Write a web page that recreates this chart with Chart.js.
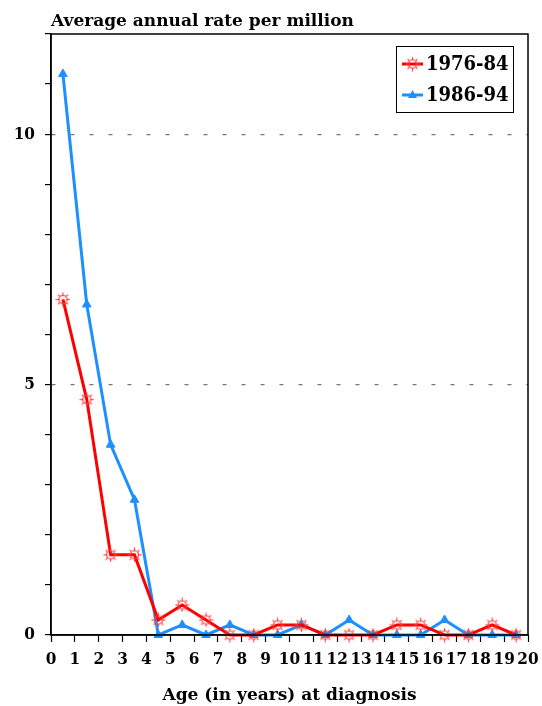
<!DOCTYPE html>
<html>
<head>
<meta charset="utf-8">
<script src="https://cdn.jsdelivr.net/npm/chart.js@4.4.1/dist/chart.umd.min.js"></script>
<style>
  html, body { margin: 0; padding: 0; background: #fff; }
  #wrap { width: 542px; height: 706px; }
</style>
</head>
<body>
<div id="wrap"><canvas id="chart" width="542" height="706"></canvas></div>
<script>
// ages are class mid-points (0-1 -> 0.5, ...)
const ages       = [0.5, 1.5, 2.5, 3.5, 4.5, 5.5, 6.5, 7.5, 8.5, 9.5, 10.5, 11.5, 12.5, 13.5, 14.5, 15.5, 16.5, 17.5, 18.5, 19.5];
const rate7684   = [6.7, 4.7, 1.6, 1.6, 0.3, 0.6, 0.3, 0, 0, 0.2, 0.2, 0, 0, 0, 0.2, 0.2, 0, 0, 0.2, 0];
const rate8694   = [11.2, 6.6, 3.8, 2.7, 0, 0.2, 0, 0.2, 0, 0, 0.2, 0, 0.3, 0, 0, 0, 0.3, 0, 0, 0];
const seriesNames = ['1976-84', '1986-94'];
const yLabelled   = [0, 5, 10];
const yTitle      = 'Average annual rate per million';
const xTitle      = 'Age (in years) at diagnosis';

const FONT  = '"DejaVu Serif Condensed", "DejaVu Serif", serif';
const WIDE  = '"DejaVu Serif", serif';

// red "sun" marker: ring with spikes
function sunMarker() {
  const c = document.createElement('canvas');
  c.width = 15; c.height = 15;
  const g = c.getContext('2d');
  g.strokeStyle = '#ff3a3a';
  g.lineWidth = 1.2;
  g.beginPath();
  g.arc(7.5, 7.5, 4, 0, Math.PI * 2);
  g.stroke();
  for (let i = 0; i < 8; i++) {
    const a = i * Math.PI / 4;
    g.beginPath();
    g.moveTo(7.5 + Math.cos(a) * 4.5, 7.5 + Math.sin(a) * 4.5);
    g.lineTo(7.5 + Math.cos(a) * 7, 7.5 + Math.sin(a) * 7);
    g.stroke();
  }
  return c;
}
const sun = sunMarker();

const toXY = vals => vals.map((v, i) => ({ x: ages[i], y: v }));

const frame = {
  id: 'frame',
  afterDraw(chart) {
    const { ctx, chartArea: a } = chart;
    ctx.save();
    ctx.strokeStyle = '#000';
    ctx.lineWidth = 1.5;
    ctx.strokeRect(a.left, a.top, a.right - a.left, a.bottom - a.top);

    ctx.fillStyle = '#000';
    ctx.font = 'bold 17px ' + WIDE;
    ctx.textBaseline = 'alphabetic';
    ctx.textAlign = 'left';
    ctx.fillText(yTitle, a.left, 26);

    // legend box
    const bx = 396, by = 46, bw = 117, bh = 66;
    ctx.fillStyle = '#fff';
    ctx.fillRect(bx, by, bw, bh);
    ctx.lineWidth = 1;
    ctx.strokeRect(bx + 0.5, by + 0.5, bw, bh);
    chart.data.datasets.forEach((ds, i) => {
      const cy = by + 18 + i * 31;
      ctx.strokeStyle = ds.borderColor;
      ctx.lineWidth = 3;
      ctx.beginPath();
      ctx.moveTo(bx + 6, cy);
      ctx.lineTo(bx + 27, cy);
      ctx.stroke();
      if (ds.pointStyle === 'triangle') {
        ctx.fillStyle = ds.borderColor;
        ctx.beginPath();
        ctx.moveTo(bx + 16.5, cy - 5);
        ctx.lineTo(bx + 21, cy + 3);
        ctx.lineTo(bx + 12, cy + 3);
        ctx.closePath();
        ctx.fill();
      } else {
        ctx.drawImage(sun, bx + 9, cy - 7.5);
      }
      ctx.fillStyle = '#000';
      ctx.font = 'bold 20px ' + FONT;
      ctx.textBaseline = 'middle';
      ctx.fillText(ds.label, bx + 30, cy + 1);
    });
    ctx.restore();
  }
};

new Chart(document.getElementById('chart'), {
  type: 'line',
  data: {
    datasets: [
      {
        label: seriesNames[0],
        data: toXY(rate7684),
        borderColor: '#ff0000',
        borderWidth: 3,
        pointStyle: sun,
        pointRadius: 7,
        clip: false,
      },
      {
        label: seriesNames[1],
        data: toXY(rate8694),
        borderColor: '#1e8fff',
        backgroundColor: '#1e8fff',
        borderWidth: 3,
        pointStyle: 'triangle',
        pointRadius: 5,
        pointBorderWidth: 1,
        clip: false,
      },
    ],
  },
  options: {
    responsive: false,
    animation: false,
    layout: { padding: { top: 34, right: 14, left: 0, bottom: 0 } },
    plugins: { legend: { display: false }, title: { display: false }, tooltip: { enabled: false } },
    scales: {
      x: {
        type: 'linear',
        min: 0, max: 20,
        afterFit: s => { s.height = 71; s.paddingLeft = 0; s.paddingRight = 0; },
        ticks: {
          stepSize: 1, autoSkip: false, maxRotation: 0,
          color: '#000', padding: 7,
          font: { family: FONT, size: 17, weight: 'bold' },
        },
        grid: { drawOnChartArea: false, drawTicks: true, tickLength: 7, tickColor: '#000', tickWidth: 1.2 },
        border: { display: true, color: '#000', width: 1.5 },
        title: {
          display: true, text: xTitle, color: '#000',
          padding: { top: 0, bottom: 0 },
          font: { family: WIDE, size: 17, weight: 'bold' },
        },
      },
      y: {
        min: 0, max: 12,
        afterFit: s => { s.width = 51; s.paddingTop = 0; s.paddingBottom = 0; },
        ticks: {
          stepSize: 1, color: '#000', padding: 10,
          font: { family: FONT, size: 17, weight: 'bold' },
          callback: v => (yLabelled.includes(v) ? String(v) : ''),
        },
        grid: {
          drawTicks: true, tickLength: 6, tickWidth: 1.2,
          color: c => (c.tick && (c.tick.value === 5 || c.tick.value === 10) ? '#777' : 'transparent'),
          tickColor: '#000',
          lineWidth: 1.2,
        },
        border: { display: true, color: '#000', width: 1.5, dash: [4, 15] },
      },
    },
  },
  plugins: [frame],
});
</script>
</body>
</html>
